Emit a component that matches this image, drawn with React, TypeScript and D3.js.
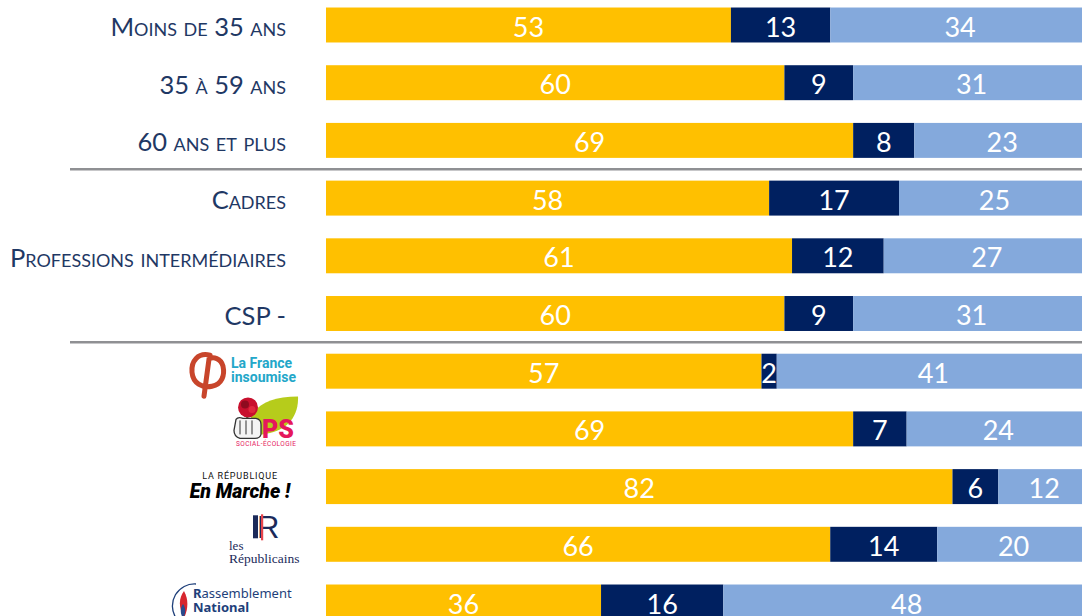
import React from "react";
import * as d3 from "d3";

const categories = [
  "Moins de 35 ans",
  "35 à 59 ans",
  "60 ans et plus",
  "Cadres",
  "Professions intermédiaires",
  "CSP -",
  "LFI",
  "PS",
  "LREM",
  "LR",
  "RN",
];
const seriesA = [53, 60, 69, 58, 61, 60, 57, 69, 82, 66, 36];
const seriesB = [13, 9, 8, 17, 12, 9, 2, 7, 6, 14, 16];
const seriesC = [34, 31, 23, 25, 27, 31, 41, 24, 12, 20, 48];
const colors = ["#FFC000", "#002060", "#84A9DC"];
const separatorsAfter = [2, 5];

const W = 1082;
const H = 616;

function Logo({ name, cy }: { name: string; cy: number }) {
  if (name === "LFI") {
    const y = cy - 376;
    return (
      <g transform={`translate(0,${y})`}>
        <path
          d="M210,360 C198,357 191,366 192,377 C193,388 202,393 212,391 C222,389 225,380 223,371 C221,363 213,361 209,364 L204,401"
          fill="none"
          stroke="#C8452B"
          strokeWidth={5}
          strokeLinecap="round"
        />
        <text x={231} y={373} fontFamily="Roboto, 'Noto Sans', sans-serif" fontWeight={700} fontSize={14} fill="#23A7C9">La France</text>
        <text x={231} y={387} fontFamily="Roboto, 'Noto Sans', sans-serif" fontWeight={700} fontSize={14} fill="#23A7C9">insoumise</text>
      </g>
    );
  }
  if (name === "PS") {
    const y = cy - 428.5;
    return (
      <g transform={`translate(0,${y})`}>
        <path d="M250,432 C246,410 264,396 298,396 C299,418 285,432 262,434 Z" fill="#B6CC1B" />
        <path d="M247,416 L249,424" stroke="#3A7A2A" strokeWidth={2} />
        <circle cx={248} cy={407} r={10} fill="#C8102E" />
        <circle cx={245} cy={404} r={4} fill="#8E0B1F" />
        <circle cx={252} cy={409} r={3.5} fill="#E0283E" />
        <path d="M236,419 Q238,416 243,418 L256,418 Q261,419 261,424 L261,434 Q260,438 255,438 L240,438 Q234,436 234,430 Z" fill="#F4F4F4" stroke="#333" strokeWidth={1.3} />
        <line x1={240} y1={420} x2={240} y2={434} stroke="#333" strokeWidth={1} />
        <line x1={246} y1={420} x2={246} y2={434} stroke="#333" strokeWidth={1} />
        <line x1={252} y1={420} x2={252} y2={434} stroke="#333" strokeWidth={1} />
        <text x={262} y={438} fontFamily="Roboto, 'Noto Sans', sans-serif" fontWeight={900} fontSize={25} fill="#E5175C">PS</text>
        <text x={236} y={446} fontFamily="Roboto, 'Noto Sans', sans-serif" fontSize={6.5} fill="#E5175C" textLength={60}>SOCIAL-ÉCOLOGIE</text>
      </g>
    );
  }
  if (name === "LREM") {
    const y = cy - 486;
    return (
      <g transform={`translate(0,${y})`}>
        <text x={240} y={478} textAnchor="middle" fontFamily="Roboto, 'Noto Sans', sans-serif" fontSize={9} letterSpacing={0.8} fill="#111">LA RÉPUBLIQUE</text>
        <text x={240} y={497} textAnchor="middle" fontFamily="Roboto, 'Noto Sans', sans-serif" fontWeight={900} fontStyle="italic" fontSize={19.5} fill="#000">En Marche !</text>
      </g>
    );
  }
  if (name === "LR") {
    const y = cy - 544;
    return (
      <g transform={`translate(0,${y})`}>
        <rect x={253} y={515} width={5} height={23} fill="#1B2A5A" />
        <text x={257} y={538} fontFamily="'Liberation Sans', sans-serif" fontSize={31} fill="#1B2A5A">R</text>
        <rect x={261} y={514} width={2.2} height={26} fill="#E8444B" />
        <text x={229} y={550} fontFamily="'Liberation Serif', 'DejaVu Serif', serif" fontSize={13} fill="#1B2A5A">les</text>
        <text x={229} y={563} fontFamily="'Liberation Serif', 'DejaVu Serif', serif" fontSize={13.5} fill="#1B2A5A">Républicains</text>
      </g>
    );
  }
  if (name === "RN") {
    const y = cy - 602;
    return (
      <g transform={`translate(0,${y})`}>
        <path d="M176,618 A22,22 0 0 1 196,584" fill="none" stroke="#1E3F7A" strokeWidth={1.3} />
        <path d="M184,591 C179,598 178,606 184,618 C188,610 189,600 184,591 Z" fill="#D7262E" />
        <path d="M183,604 C180,608 180,614 183,618 C186,614 186,608 183,604 Z" fill="#2A4A8C" />
        <text x={193} y={598} fontFamily="'Noto Sans', sans-serif" fontSize={13} fill="#1E3F7A">
          <tspan fontWeight={700}>R</tspan>assemblement
        </text>
        <text x={193} y={612} fontFamily="'Noto Sans', sans-serif" fontWeight={700} fontSize={13} fill="#1E3F7A">National</text>
      </g>
    );
  }
  return null;
}

export default function App() {
  const x = d3.scaleLinear().domain([0, 100]).range([326, 1090]);
  const y = d3
    .scaleBand<number>()
    .domain(d3.range(categories.length))
    .range([7.5 - 11.35, 7.5 + 11 * 57.7 - 11.35])
    .paddingInner(0.394)
    .paddingOuter(0.197);
  const bh = y.bandwidth();
  const stack = categories.map((_, i) => {
    const vals = [seriesA[i], seriesB[i], seriesC[i]];
    let acc = 0;
    return vals.map((v, k) => {
      const s = acc;
      acc += v;
      return { v, s, e: acc, k };
    });
  });
  const textLabels = new Set([0, 1, 2, 3, 4, 5]);

  return (
    <svg
      width={W}
      height={H}
      style={{ position: "absolute", left: 0, top: 0, background: "#fff" }}
    >
      {categories.map((c, i) => {
        const top = y(i)!;
        const cy = top + bh / 2;
        return (
          <g key={c}>
            {stack[i].map((seg) => (
              <g key={seg.k}>
                <rect
                  x={x(seg.s)}
                  y={top}
                  width={x(seg.e) - x(seg.s)}
                  height={bh}
                  fill={colors[seg.k]}
                />
                <text
                  x={(x(seg.s) + x(seg.e)) / 2}
                  y={cy + 1}
                  textAnchor="middle"
                  dominantBaseline="central"
                  fontFamily="Lato, 'Open Sans', sans-serif"
                  fontSize={27}
                  fill="#fff"
                >
                  {seg.v}
                </text>
              </g>
            ))}
            {textLabels.has(i) ? (
              <text
                x={286}
                y={cy + 1}
                textAnchor="end"
                dominantBaseline="central"
                fontFamily="Lato, 'Open Sans', sans-serif"
                fontSize={25.5}
                fill="#1F3864"
                style={{ fontVariant: "small-caps" }}
              >
                {c}
              </text>
            ) : (
              <Logo name={c} cy={cy} />
            )}
          </g>
        );
      })}
      {separatorsAfter.map((i) => {
        const yy = (y(i)! + bh + y(i + 1)!) / 2;
        return (
          <line key={i} x1={70} x2={W} y1={yy} y2={yy} stroke="#8F9093" strokeWidth={2.5} />
        );
      })}
    </svg>
  );
}
